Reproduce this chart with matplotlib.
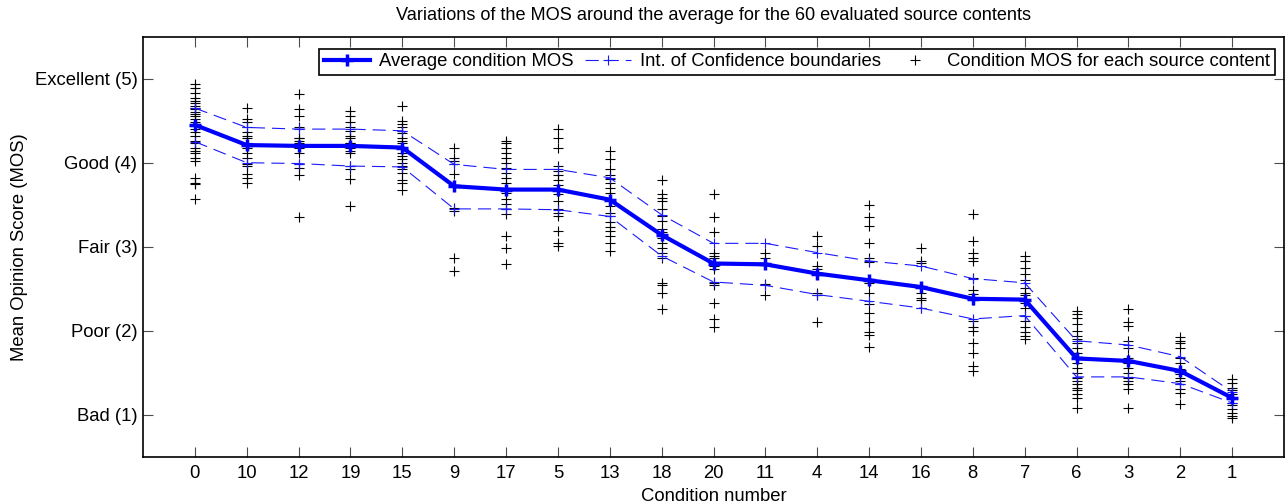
import matplotlib
matplotlib.use("Agg")
import matplotlib.pyplot as plt

conditions = ['0', '10', '12', '19', '15', '9', '17', '5', '13', '18', '20',
              '11', '4', '14', '16', '8', '7', '6', '3', '2', '1']

mean_mos = [4.45, 4.21, 4.20, 4.20, 4.18, 3.72, 3.68, 3.68, 3.56, 3.14, 2.80,
            2.79, 2.68, 2.60, 2.52, 2.38, 2.37, 1.67, 1.64, 1.52, 1.20]
ci_upper = [4.65, 4.42, 4.40, 4.40, 4.38, 3.98, 3.92, 3.92, 3.82, 3.38, 3.04,
            3.04, 2.93, 2.83, 2.77, 2.62, 2.57, 1.88, 1.83, 1.69, 1.27]
ci_lower = [4.25, 4.00, 3.99, 3.96, 3.95, 3.45, 3.45, 3.44, 3.36, 2.89, 2.58,
            2.54, 2.43, 2.35, 2.27, 2.14, 2.18, 1.45, 1.45, 1.37, 1.14]

source_mos = [
    [4.94, 4.89, 4.83, 4.77, 4.74, 4.71, 4.68, 4.65, 4.64, 4.60, 4.58, 4.56, 4.52,
     4.48, 4.46, 4.44, 4.40, 4.36, 4.32, 4.26, 4.24, 4.18, 4.14, 4.11, 4.06, 4.02,
     3.82, 3.76, 3.75, 3.57],
    [4.65, 4.52, 4.48, 4.42, 4.36, 4.32, 4.29, 4.24, 4.20, 4.17, 4.11, 4.06, 3.99,
     3.96, 3.87, 3.82, 3.76],
    [4.82, 4.64, 4.56, 4.42, 4.30, 4.29, 4.26, 4.23, 4.17, 4.12, 3.99, 3.94, 3.85,
     3.35],
    [4.62, 4.56, 4.48, 4.42, 4.38, 4.32, 4.29, 4.24, 4.23, 4.18, 4.14, 4.11, 3.96,
     3.93, 3.81, 3.49],
    [4.68, 4.50, 4.46, 4.42, 4.38, 4.35, 4.30, 4.26, 4.23, 4.18, 4.12, 4.08, 4.05,
     4.00, 3.96, 3.93, 3.88, 3.79, 3.76, 3.67],
    [4.17, 4.06, 4.02, 3.99, 3.87, 3.73, 3.46, 3.43, 2.86, 2.71],
    [4.26, 4.23, 4.17, 4.12, 4.06, 4.00, 3.94, 3.88, 3.82, 3.76, 3.70, 3.64, 3.57,
     3.51, 3.45, 3.39, 3.13, 2.98, 2.80],
    [4.40, 4.30, 4.18, 3.96, 3.90, 3.85, 3.79, 3.73, 3.69, 3.63, 3.55, 3.45, 3.40,
     3.37, 3.19, 3.04, 3.01],
    [4.14, 4.05, 3.93, 3.85, 3.81, 3.76, 3.70, 3.64, 3.57, 3.49, 3.40, 3.37, 3.29,
     3.23, 3.19, 3.13, 3.05, 2.95],
    [3.79, 3.63, 3.58, 3.55, 3.45, 3.37, 3.31, 3.21, 3.17, 3.13, 3.10, 3.04, 2.98,
     2.92, 2.86, 2.57, 2.54, 2.45, 2.26],
    [3.63, 3.35, 3.17, 2.93, 2.89, 2.86, 2.81, 2.77, 2.74, 2.57, 2.54, 2.33, 2.14,
     2.04],
    [2.92, 2.87, 2.80, 2.56, 2.42],
    [3.13, 3.01, 2.77, 2.74, 2.45, 2.42, 2.10],
    [3.50, 3.35, 3.25, 3.04, 2.86, 2.82, 2.57, 2.45, 2.32, 2.21, 2.10, 1.98, 1.95,
     1.81],
    [2.99, 2.83, 2.81, 2.51, 2.45, 2.39, 2.36, 2.27],
    [3.39, 3.07, 2.92, 2.87, 2.83, 2.63, 2.48, 2.44, 2.39, 2.38, 2.36, 2.12, 2.04,
     2.00, 1.85, 1.73, 1.58, 1.52],
    [2.89, 2.83, 2.75, 2.68, 2.60, 2.51, 2.45, 2.42, 2.38, 2.33, 2.27, 2.18, 2.12,
     2.04, 1.98, 1.94, 1.90],
    [2.24, 2.20, 2.15, 2.08, 2.00, 1.94, 1.90, 1.85, 1.79, 1.73, 1.67, 1.61, 1.56,
     1.50, 1.44, 1.40, 1.37, 1.32, 1.29, 1.25, 1.20, 1.08],
    [2.26, 2.10, 2.06, 1.88, 1.80, 1.68, 1.62, 1.56, 1.50, 1.44, 1.40, 1.37, 1.31,
     1.08],
    [1.92, 1.88, 1.85, 1.80, 1.68, 1.61, 1.55, 1.49, 1.44, 1.40, 1.37, 1.31, 1.26,
     1.13],
    [1.43, 1.38, 1.32, 1.29, 1.25, 1.19, 1.14, 1.11, 1.07, 1.02, 0.99, 0.96],
]

ytick_values = [1, 2, 3, 4, 5]
ytick_labels = ['Bad (1)', 'Poor (2)', 'Fair (3)', 'Good (4)', 'Excellent (5)']

plt.rcParams['font.family'] = ['Liberation Sans', 'DejaVu Sans']
plt.rcParams['lines.scale_dashes'] = False

FS = 13.3

fig = plt.figure(figsize=(12.85, 5.03), dpi=100)
ax = fig.add_axes([143 / 1285, 1 - 456.7 / 503, (1284 - 143) / 1285, (456.7 - 36.7) / 503])

xpos = list(range(1, len(conditions) + 1))

# individual source content points
sx, sy = [], []
for i, vals in enumerate(source_mos):
    sx.extend([xpos[i]] * len(vals))
    sy.extend(vals)
ax.plot(sx, sy, linestyle='none', marker='+', color='black', markersize=7.5,
        markeredgewidth=0.8, label='Condition MOS for each source content', zorder=2)

ax.plot(xpos, ci_upper, color=(0.1, 0.1, 1.0), linestyle='--', dashes=(9.5, 5),
        linewidth=0.8, marker='+', markersize=7, markeredgewidth=0.8,
        label='Int. of Confidence boundaries', zorder=3)
ax.plot(xpos, ci_lower, color=(0.1, 0.1, 1.0), linestyle='--', dashes=(9.5, 5),
        linewidth=0.8, marker='+', markersize=7, markeredgewidth=0.8, zorder=3)

ax.plot(xpos, mean_mos, color=(0, 0, 1), linewidth=3, marker='+', markersize=8,
        markeredgewidth=2.5, label='Average condition MOS', zorder=4)

ax.set_xlim(0, 22)
ax.set_ylim(0.5, 5.5)
ax.set_xticks(xpos)
ax.set_xticklabels(conditions)
ax.set_yticks(ytick_values)
ax.set_yticklabels(ytick_labels)
ax.tick_params(direction='in', top=True, right=True, length=7, width=0.8,
               color='0.3', labelsize=FS)
ax.tick_params(axis='y', pad=4)
ax.tick_params(axis='x', pad=6)
for sp in ax.spines.values():
    sp.set_linewidth(1.2)
    sp.set_color('black')

ax.set_title('Variations of the MOS around the average for the 60 evaluated source contents',
             fontsize=13.1, pad=12)
ax.set_xlabel('Condition number', fontsize=FS, labelpad=4)
ax.set_ylabel('Mean Opinion Score (MOS)', fontsize=FS, labelpad=4.5)

handles, labels = ax.get_legend_handles_labels()
order = [2, 1, 0]
leg = ax.legend([handles[k] for k in order], [labels[k] for k in order],
                loc='upper right', ncol=3, fontsize=FS, fancybox=False,
                edgecolor='black', framealpha=1, borderpad=0.25, handlelength=2.5,
                columnspacing=0.6, handletextpad=0.5, borderaxespad=0.3,
                bbox_to_anchor=(0.997, 0.985))
leg.get_frame().set_linewidth(1.2)

fig.savefig('out.png', dpi=100)
